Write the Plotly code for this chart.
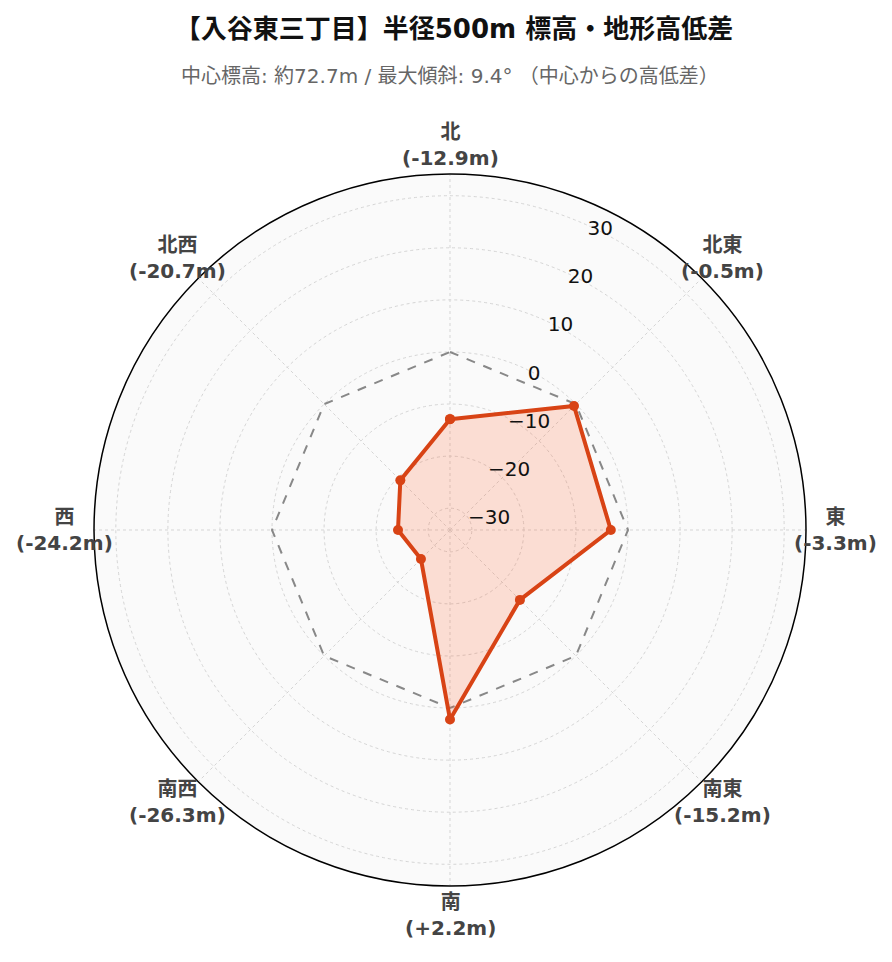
import math
import plotly.graph_objects as go

directions = ["北", "北東", "東", "南東", "南", "南西", "西", "北西"]
angles = [0, 45, 90, 135, 180, 225, 270, 315]
diffs = [-12.9, -0.5, -3.3, -15.2, 2.2, -26.3, -24.2, -20.7]
baseline = [0, 0, 0, 0, 0, 0, 0, 0]
radial_ticks = [-30, -20, -10, 0, 10, 20, 30]

label_texts = [f"<b>{d}<br>({'+' if v > 0 else ''}{v:.1f}m)</b>" for d, v in zip(directions, diffs)]

lim = max(abs(v) for v in diffs) * 1.3
LABEL_RADIUS = 0.5 * 1.0815  # in polar-domain units (domain radius = 0.5)

H = 962
T, B, L, R = 166, 84, 86, 94
plot_h = H - T - B
FONT = "DejaVu Sans, Noto Sans CJK JP, sans-serif"

fig = go.Figure()
fig.add_trace(go.Scatterpolar(
    r=baseline + [baseline[0]], theta=angles + [angles[0]],
    mode="lines", line=dict(color="#888888", width=2, dash="dash"),
    hoverinfo="skip", showlegend=False,
))
fig.add_trace(go.Scatterpolar(
    r=diffs + [diffs[0]], theta=angles + [angles[0]],
    mode="lines+markers", fill="toself", fillcolor="rgba(255,87,34,0.18)",
    line=dict(color="#D84315", width=4), marker=dict(size=10, color="#D84315"),
    showlegend=False,
))

annotations = [dict(text="中心標高: 約72.7m / 最大傾斜: 9.4° （中心からの高低差）",
                    xref="paper", yref="paper", x=0.5, y=(H - B - 68) / plot_h,
                    xanchor="center", yanchor="middle", showarrow=False,
                    font=dict(size=20, color="#666666", family=FONT))]
for a, txt in zip(angles, label_texts):
    rad = math.radians(a)
    annotations.append(dict(
        text=txt, xref="paper", yref="paper",
        x=0.5 + LABEL_RADIUS * math.sin(rad), y=0.5 + LABEL_RADIUS * math.cos(rad),
        xanchor="center", yanchor="middle", showarrow=False, align="center",
        font=dict(size=20, color="#444444", family=FONT),
    ))

fig.update_layout(
    width=892, height=H,
    paper_bgcolor="white",
    font=dict(family=FONT),
    margin=dict(l=L, r=R, t=T, b=B),
    title=dict(text="<b>【入谷東三丁目】半径500m 標高・地形高低差</b>",
               x=0.5, xanchor="center", y=1 - 20.5 / H, yanchor="middle", yref="container",
               font=dict(size=26, color="#111111", family=FONT)),
    annotations=annotations,
    polar=dict(
        bgcolor="#fafafa",
        angularaxis=dict(
            rotation=90, direction="clockwise",
            tickmode="array", tickvals=angles, showticklabels=False,
            showline=True, linecolor="black", linewidth=1.5,
            gridcolor="#d5d5d5", griddash="dot", ticks="",
        ),
        radialaxis=dict(
            range=[-lim, lim], tickvals=radial_ticks, angle=67.5, tickangle=67.5,
            tickfont=dict(size=20, color="#111111", family=FONT),
            showline=False, ticks="", gridcolor="#d5d5d5", griddash="dot",
        ),
    ),
)
fig.write_html("out.html")
